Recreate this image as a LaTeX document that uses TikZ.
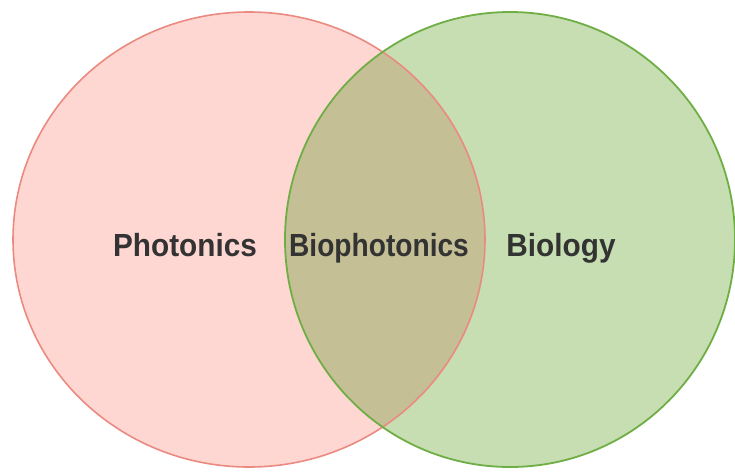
\documentclass[tikz,border=0pt]{standalone}
\usepackage{fontspec}
\setmainfont{Liberation Sans}
\begin{document}
\begin{tikzpicture}[x=1pt,y=-1pt,
  lbl/.style={font=\bfseries\fontsize{32}{32}\selectfont, text=textgray, inner sep=0pt, anchor=base, xscale=0.93},
]
\definecolor{pinkfill}{HTML}{FFD7D2}
\definecolor{pinkline}{HTML}{EA8A80}
\definecolor{greenfill}{HTML}{C6DEB2}
\definecolor{greenline}{HTML}{6FAE45}
\definecolor{olivefill}{HTML}{C5BF95}
\definecolor{textgray}{HTML}{333333}
\useasboundingbox (0,0) rectangle (735,472);
\fill[white] (0,0) rectangle (735,472);
\coordinate (L) at (249,239.5);
\coordinate (R) at (510,239.5);
% fills
\fill[pinkfill] (L) ellipse [x radius=236, y radius=227.5];
\fill[greenfill] (R) ellipse [x radius=225, y radius=227.5];
\begin{scope}
  \clip (L) ellipse [x radius=236, y radius=227.5];
  \fill[olivefill] (R) ellipse [x radius=225, y radius=227.5];
\end{scope}
% outlines
\draw[pinkline, line width=1.6pt] (L) ellipse [x radius=236, y radius=227.5];
\draw[greenline, line width=1.8pt] (R) ellipse [x radius=225, y radius=227.5];
% labels
\node[lbl] (photonics) at (185,256.5) {Photonics};
\node[lbl, xscale=0.945] (biophotonics) at (379,256.5) {Biophotonics};
\node[lbl] (biology) at (561,256.5) {Biology};
\end{tikzpicture}
\end{document}
